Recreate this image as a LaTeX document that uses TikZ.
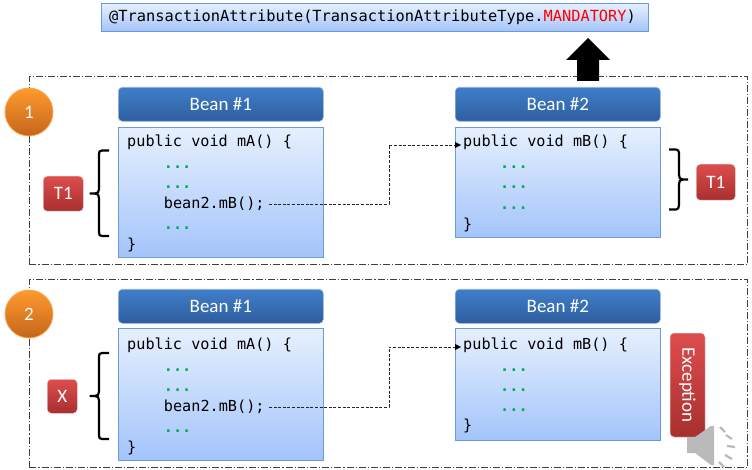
\documentclass[tikz,border=0pt]{standalone}
\usepackage{fontspec}
\setmainfont{Carlito}
\setmonofont{DejaVu Sans Mono}
\definecolor{kwgreen}{HTML}{00B050}
\definecolor{bdblue}{HTML}{6C9BD8}
\definecolor{headtop}{HTML}{3F7EC9}
\definecolor{headbot}{HTML}{2E5E9E}
\definecolor{redtop}{HTML}{DE4D4D}
\definecolor{redbot}{HTML}{A82F2F}
\definecolor{ortop}{HTML}{FF9A2E}
\definecolor{orbot}{HTML}{C4651C}
\definecolor{boxtop}{HTML}{E6F0FE}
\definecolor{boxbot}{HTML}{A3C4FA}
\tikzset{
  x=1pt,y=-1pt,
  panel/.style={draw=black!75,line width=0.7pt,dash pattern=on 7pt off 2pt on 1.2pt off 2pt},
  beanhead/.style={draw=bdblue!70!white,line width=0.6pt,rounded corners=4pt,top color=headtop,bottom color=headbot,text=white,font=\fontsize{19}{21}\selectfont,anchor=north west,minimum width=205pt,minimum height=34pt,inner sep=0pt},
  redbtn/.style={draw=red!45!black!20!white,line width=0.5pt,rounded corners=4pt,top color=redtop,bottom color=redbot,text=white,font=\fontsize{19}{21}\selectfont,inner sep=0pt},
  orangec/.style={circle,draw=orange!70!white,line width=0.8pt,top color=ortop,bottom color=orbot,text=white,inner sep=0pt,minimum size=48pt,font=\fontsize{19}{21}\selectfont},
  codetext/.style={anchor=base west,inner sep=0pt,font=\fontsize{15.2}{17}\ttfamily\selectfont,text=black},
  dotstext/.style={codetext,text=kwgreen,font=\fontsize{15.2}{17}\ttfamily\bfseries\selectfont},
  brace/.style={draw=black,line width=2.2pt,line join=round},
  link/.style={draw=black!85,line width=0.75pt,dash pattern=on 3pt off 1.6pt},
  bluefill/.style={draw=bdblue,line width=0.9pt,top color=boxtop,bottom color=boxbot,anchor=north west,inner sep=0pt,minimum width=205pt},
  tip/.style={fill=black},
  speaker/.style={draw=black!27,line width=2.2pt},
}
\begin{document}
\begin{tikzpicture}
\useasboundingbox (0,0) rectangle (752,470);
% top annotation
\node[bluefill,minimum width=547pt,minimum height=28pt] (ann) at (101,3) {};
\node[codetext,font=\fontsize{15.35}{17}\ttfamily\selectfont] (anntext) at (109,22) {@TransactionAttribute(TransactionAttributeType.\textcolor{red}{MANDATORY})};
% panels
\node[panel,anchor=north west,minimum width=718pt,minimum height=188pt,inner sep=0pt] (p1) at (29,76) {};
\node[panel,anchor=north west,minimum width=718pt,minimum height=188pt,inner sep=0pt] (p2) at (29,279) {};
% up arrow
\fill[black] (588,38) -- (610,60) -- (599,60) -- (599,81) -- (577,81) -- (577,60) -- (566,60) -- cycle;
% circles
\node[orangec] (n1) at (29,112) {1};
\node[orangec] (n2) at (29,314) {2};
% panel 1 beans
\node[beanhead] (h11) at (118,87) {Bean \#1};
\node[bluefill,minimum height=130pt] (b11) at (118,127) {};
\node[beanhead] (h12) at (455,87) {Bean \#2};
\node[bluefill,minimum height=110pt] (b12) at (455,127) {};
\node[codetext] (s11) at (127,147) {public void mA() \{};
\node[dotstext] (d111) at (163.7,168.5) {...};
\node[dotstext] (d112) at (163.7,188.5) {...};
\node[codetext] (call1) at (163.7,208.5) {bean2.mB();};
\node[dotstext] (d113) at (163.7,229.5) {...};
\node[codetext] (e11) at (127,249.5) {\}};
\node[codetext] (s12) at (463,147) {public void mB() \{};
\node[dotstext] (d121) at (500,168.5) {...};
\node[dotstext] (d122) at (500,188.5) {...};
\node[dotstext] (d123) at (500,209.5) {...};
\node[codetext] (e12) at (463,229.5) {\}};
% panel 2 beans
\node[beanhead] (h21) at (118,289) {Bean \#1};
\node[bluefill,minimum height=132pt] (b21) at (118,328) {};
\node[beanhead] (h22) at (455,289) {Bean \#2};
\node[bluefill,minimum height=112pt] (b22) at (455,328) {};
\node[codetext] (s21) at (127,349) {public void mA() \{};
\node[dotstext] (d211) at (163.7,371) {...};
\node[dotstext] (d212) at (163.7,391) {...};
\node[codetext] (call2) at (163.7,411) {bean2.mB();};
\node[dotstext] (d213) at (163.7,432.5) {...};
\node[codetext] (e21) at (127,452.5) {\}};
\node[codetext] (s22) at (463,349) {public void mB() \{};
\node[dotstext] (d221) at (500,371) {...};
\node[dotstext] (d222) at (500,391) {...};
\node[dotstext] (d223) at (500,411) {...};
\node[codetext] (e22) at (463,430.5) {\}};
% connectors
\coordinate (bend1) at (389,145);
\coordinate (bend2) at (389,347);
\coordinate (start1) at (269,204);
\coordinate (start2) at (269,407);
\coordinate (end1) at (457,145);
\coordinate (end2) at (457,347);
\draw[link] (start1) -- (start1 -| bend1) -- (bend1) -- (end1);
\fill[tip] (end1) ++(-2,-3) -- ++(6,3) -- ++(-6,3) -- cycle;
\draw[link] (start2) -- (start2 -| bend2) -- (bend2) -- (end2);
\fill[tip] (end2) ++(-2,-3) -- ++(6,3) -- ++(-6,3) -- cycle;
% T1 / X
\node[redbtn,anchor=north west,minimum width=40pt,minimum height=35pt] (t1l) at (43,176) {T1};
\node[redbtn,anchor=north west,minimum width=39pt,minimum height=36pt] (t1r) at (696,164) {T1};
\node[redbtn,anchor=north west,minimum width=30pt,minimum height=34pt] (x2) at (47,379) {X};
\node[redbtn,minimum width=104pt,minimum height=35pt,rotate=-90] (ex) at (687.5,385) {Exception};
% braces
\draw[brace] (109,150.5) -- (102,150.5) .. controls (99.5,150.5) and (99,152) .. (99,154) -- (99,189) .. controls (99,192) and (98,193.5) .. (95,193.5) -- (89.5,193.5);
\draw[brace] (95,193.5) .. controls (98,193.5) and (99,195) .. (99,198) -- (99,232) .. controls (99,235) and (99.5,236) .. (102,236) -- (109,236);
\draw[brace] (669,149.5) -- (676,149.5) .. controls (678,149.5) and (679,151) .. (679,153) -- (679,175) .. controls (679,178) and (680,179.5) .. (683,179.5) -- (688,179.5);
\draw[brace] (683,179.5) .. controls (680,179.5) and (679,181) .. (679,184) -- (679,205) .. controls (679,208) and (678,209.5) .. (676,209.5) -- (669,209.5);
\draw[brace] (109,353) -- (102,353) .. controls (99.5,353) and (99,354.5) .. (99,356.5) -- (99,391.5) .. controls (99,394.5) and (98,396) .. (95,396) -- (89.5,396);
\draw[brace] (95,396) .. controls (98,396) and (99,397.5) .. (99,400.5) -- (99,435) .. controls (99,438) and (99.5,439) .. (102,439) -- (109,439);
% speaker
\fill[black!27] (687,437) -- (695,437) -- (711,426) -- (714,426) -- (714,465) -- (711,465) -- (695,453) -- (687,453) -- cycle;
\draw[speaker] (720,427) -- (725,432);
\draw[speaker] (726,435) -- (732,439);
\draw[speaker] (727,446) -- (735,447);
\draw[speaker] (725,455) -- (732,459);
\draw[speaker] (719,462) -- (724,467);
\end{tikzpicture}
\end{document}
